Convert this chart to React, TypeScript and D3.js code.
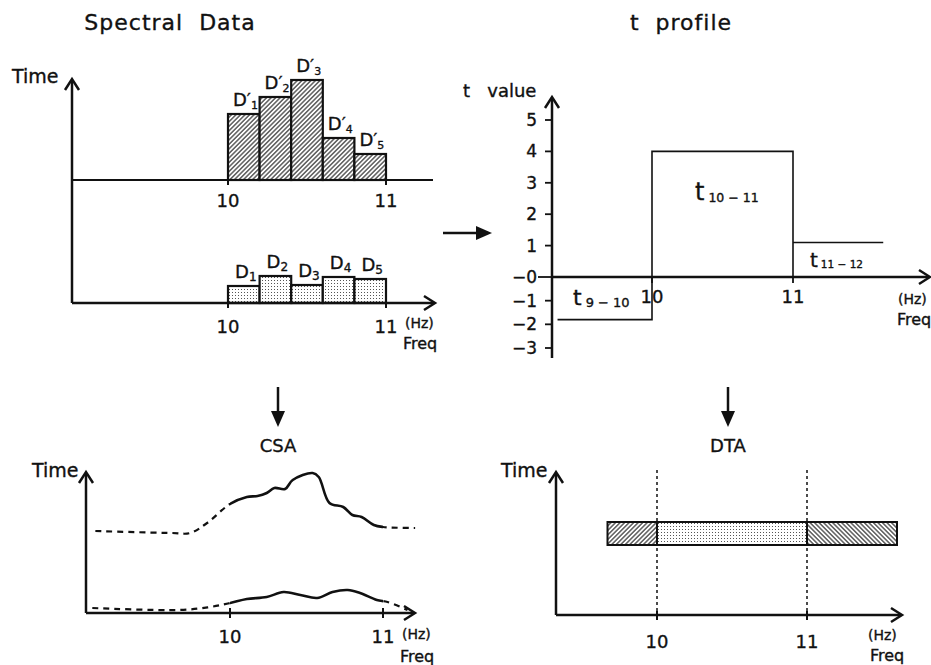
import React from "react";
import * as d3 from "d3";

const FONT = "'DejaVu Sans', sans-serif";

// spectral data, five bins between 10 and 11 Hz
const binEdges = [10, 10.2, 10.4, 10.6, 10.8, 11];
const dPrimeValues = [6.6, 8.3, 10.0, 4.2, 2.6];
const dValues = [1.7, 2.7, 1.8, 2.6, 2.4];
const binNames = ["1", "2", "3", "4", "5"];
const freqTicks = [10, 11];

// t profile
const tRanges = ["9 − 10", "10 − 11", "11 − 12"];
const tFrom = [9.33, 10, 11];
const tTo = [10, 11, 11.64];
const tValues = [-1.8, 4, 1.1];
const tTicks = [5, 4, 3, 2, 1, 0, -1, -2, -3];

// CSA curves (freq in Hz, time in arbitrary units)
const csaUpperFreq = [9.12, 9.62, 9.74, 9.85, 10, 10.11, 10.18, 10.24, 10.29, 10.36, 10.41, 10.54, 10.58, 10.65, 10.74, 10.8, 10.86, 10.94, 11, 11.21];
const csaUpperTime = [8.2, 8.0, 8.0, 9.0, 10.9, 11.6, 11.7, 12.0, 12.5, 12.4, 13.3, 14.0, 13.6, 11.0, 10.6, 9.8, 9.6, 8.8, 8.6, 8.5];
const csaLowerFreq = [9.1, 9.67, 9.87, 10, 10.11, 10.24, 10.35, 10.46, 10.57, 10.67, 10.77, 10.85, 10.96, 11.03, 11.16];
const csaLowerTime = [0.5, 0.3, 0.6, 1.0, 1.4, 1.6, 2.1, 1.8, 1.5, 2.1, 2.3, 2.0, 1.3, 1.1, 0.3];

// DTA band
const dtaFrom = [9.67, 10, 11];
const dtaTo = [10, 11, 11.6];
const dtaFill = ["hatchA", "dots", "hatchB"];
const dtaBand = [7.0, 9.3];

const ink = "#111";
const textStroke = { stroke: ink, strokeWidth: 0.35 };

function ChevronUp({ x, y }: { x: number; y: number }) {
  return <path d={`M${x - 7},${y + 11}L${x},${y}L${x + 7},${y + 11}`} fill="none" stroke={ink} strokeWidth={2.5} />;
}
function ChevronRight({ x, y }: { x: number; y: number }) {
  return <path d={`M${x - 11},${y - 7}L${x},${y}L${x - 11},${y + 7}`} fill="none" stroke={ink} strokeWidth={2.5} />;
}
function DownArrow({ x, y0, y1 }: { x: number; y0: number; y1: number }) {
  return (
    <g>
      <line x1={x} y1={y0} x2={x} y2={y1 - 14} stroke={ink} strokeWidth={2.5} />
      <path d={`M${x - 7},${y1 - 16}L${x},${y1}L${x + 7},${y1 - 16}Z`} fill={ink} />
    </g>
  );
}

function Label({ x, y, size, children, anchor = "start", spacing = 0 }: any) {
  return (
    <text x={x} y={y} fontSize={size} textAnchor={anchor} fontFamily={FONT} letterSpacing={spacing}
      style={{ whiteSpace: "pre" }} fill={ink} {...textStroke}>{children}</text>
  );
}

function SpectralPanel() {
  const x = d3.scaleLinear().domain([10, 11]).range([228, 386]);
  const yUp = d3.scaleLinear().domain([0, 10]).range([180, 80]);
  const yLo = d3.scaleLinear().domain([0, 10]).range([303, 203]);
  const upper = dPrimeValues.map((v, i) => ({ x0: binEdges[i], x1: binEdges[i + 1], v, n: binNames[i] }));
  const lower = dValues.map((v, i) => ({ x0: binEdges[i], x1: binEdges[i + 1], v, n: binNames[i] }));
  return (
    <g>
      <Label x={170} y={30} size={22} anchor="middle" spacing={1}>{"Spectral  Data"}</Label>
      <Label x={12} y={83} size={19}>Time</Label>
      {upper.map((d, i) => (
        <rect key={"u" + i} x={x(d.x0)} y={yUp(d.v)} width={x(d.x1) - x(d.x0)} height={yUp(0) - yUp(d.v)}
          fill="url(#hatchA)" stroke={ink} strokeWidth={2.2} />
      ))}
      {upper.map((d, i) => (
        <text key={"ul" + i} x={x(d.x0) + 5} y={yUp(d.v) - 8} fontSize={18} fontFamily={FONT} fill={ink} {...textStroke}>
          D′<tspan fontSize={11} dy={3}>{d.n}</tspan>
        </text>
      ))}
      {lower.map((d, i) => (
        <rect key={"l" + i} x={x(d.x0)} y={yLo(d.v)} width={x(d.x1) - x(d.x0)} height={yLo(0) - yLo(d.v)}
          fill="url(#dots)" stroke={ink} strokeWidth={2.2} />
      ))}
      {lower.map((d, i) => (
        <text key={"ll" + i} x={x(d.x0) + 7} y={yLo(d.v) - 8} fontSize={18} fontFamily={FONT} fill={ink} {...textStroke}>
          D<tspan fontSize={12} dy={3}>{d.n}</tspan>
        </text>
      ))}
      {/* axes */}
      <line x1={72} y1={80} x2={72} y2={yLo(0)} stroke={ink} strokeWidth={2.5} />
      <ChevronUp x={72} y={79} />
      <line x1={72} y1={yUp(0)} x2={433} y2={yUp(0)} stroke={ink} strokeWidth={2.2} />
      <line x1={72} y1={yLo(0)} x2={434} y2={yLo(0)} stroke={ink} strokeWidth={2.5} />
      <ChevronRight x={435} y={yLo(0)} />
      {freqTicks.map((t) => (
        <g key={t}>
          <line x1={x(t)} y1={yUp(0)} x2={x(t)} y2={yUp(0) + 5} stroke={ink} strokeWidth={2} />
          <line x1={x(t)} y1={yLo(0)} x2={x(t)} y2={yLo(0) + 5} stroke={ink} strokeWidth={2} />
          <Label x={x(t)} y={207} size={18} anchor="middle">{String(t)}</Label>
          <Label x={x(t)} y={333} size={18} anchor="middle">{String(t)}</Label>
        </g>
      ))}
      <Label x={405} y={328} size={14}>(Hz)</Label>
      <Label x={403} y={349} size={16}>Freq</Label>
    </g>
  );
}

function TProfilePanel() {
  const x = d3.scaleLinear().domain([10, 11]).range([652, 793]);
  const y = d3.scaleLinear().domain([-3, 0, 5]).range([348, 277, 120]);
  const axisX = 552;
  const line = d3.line<[number, number]>().x((d) => x(d[0])).y((d) => y(d[1]));
  const step: [number, number][] = [];
  for (let i = 0; i < 2; i++) {
    step.push([tFrom[i], tValues[i]]);
    step.push([tTo[i], tValues[i]]);
  }
  step.push([tTo[1], 0]);
  const tail: [number, number][] = [[tFrom[2], tValues[2]], [tTo[2], tValues[2]]];
  return (
    <g>
      <Label x={681} y={30} size={22} anchor="middle" spacing={1}>{"t  profile"}</Label>
      <Label x={463} y={97} size={18}>{"t   value"}</Label>
      <line x1={axisX} y1={98} x2={axisX} y2={358} stroke={ink} strokeWidth={2.5} />
      <ChevronUp x={axisX} y={97} />
      {tTicks.map((t) => (
        <g key={t}>
          <line x1={t === 0 ? 538 : 545} y1={y(t)} x2={axisX} y2={y(t)} stroke={ink} strokeWidth={1.8} />
          <Label x={537} y={y(t) + 6} size={17} anchor="end">{t < 0 ? "−" + Math.abs(t) : t === 0 ? "−0" : String(t)}</Label>
        </g>
      ))}
      <line x1={axisX} y1={y(0)} x2={928} y2={y(0)} stroke={ink} strokeWidth={2.5} />
      <ChevronRight x={930} y={y(0)} />
      <path d={line(step) || ""} fill="none" stroke={ink} strokeWidth={1.6} />
      <path d={line(tail) || ""} fill="none" stroke={ink} strokeWidth={1.6} />
      {freqTicks.map((t) => (
        <g key={t}>
          <line x1={x(t)} y1={y(0)} x2={x(t)} y2={y(0) + 6} stroke={ink} strokeWidth={1.8} />
          <Label x={x(t)} y={303} size={18} anchor="middle">{String(t)}</Label>
        </g>
      ))}
      <Label x={898} y={304} size={14}>(Hz)</Label>
      <Label x={897} y={325} size={16}>Freq</Label>
      {/* t labels */}
      <text x={573} y={305} fontFamily={FONT} fill={ink} fontSize={22} {...textStroke}>t<tspan fontSize={13} dx={4} dy={2} style={{ whiteSpace: "pre" }}>{tRanges[0]}</tspan></text>
      <text x={695} y={200} fontFamily={FONT} fill={ink} fontSize={24} {...textStroke}>t<tspan fontSize={12.5} dx={4} dy={2} style={{ whiteSpace: "pre" }}>{tRanges[1]}</tspan></text>
      <text x={810} y={267} fontFamily={FONT} fill={ink} fontSize={20} {...textStroke}>t<tspan fontSize={10.5} dx={3} dy={1} style={{ whiteSpace: "pre" }}>{tRanges[2]}</tspan></text>
    </g>
  );
}

function CsaPanel() {
  const x = d3.scaleLinear().domain([10, 11]).range([230, 383]);
  const y = d3.scaleLinear().domain([0, 14]).range([613, 473]);
  const mk = (fs: number[], ts: number[]) =>
    d3.line<number>().x((f) => x(f)).y((_, i) => y(ts[i])).curve(d3.curveCatmullRom.alpha(0.5))(fs) || "";
  const up = mk(csaUpperFreq, csaUpperTime);
  const lo = mk(csaLowerFreq, csaLowerTime);
  return (
    <g>
      <defs>
        <clipPath id="csaMid"><rect x={x(10)} y={400} width={x(11) - x(10)} height={260} /></clipPath>
        <clipPath id="csaOut">
          <rect x={0} y={400} width={x(10)} height={260} />
          <rect x={x(11)} y={400} width={200} height={260} />
        </clipPath>
      </defs>
      <DownArrow x={278} y0={387} y1={427} />
      <Label x={278} y={452} size={18} anchor="middle">CSA</Label>
      <Label x={32} y={477} size={19}>Time</Label>
      <line x1={86} y1={473} x2={86} y2={y(0)} stroke={ink} strokeWidth={2.5} />
      <ChevronUp x={86} y={472} />
      <line x1={86} y1={y(0)} x2={413} y2={y(0)} stroke={ink} strokeWidth={2.5} />
      <ChevronRight x={415} y={y(0)} />
      {[up, lo].map((d, i) => (
        <g key={i}>
          <path d={d} fill="none" stroke={ink} strokeWidth={2.6} clipPath="url(#csaMid)" />
          <path d={d} fill="none" stroke={ink} strokeWidth={2.2} strokeDasharray="6,5" clipPath="url(#csaOut)" />
        </g>
      ))}
      {freqTicks.map((t) => (
        <g key={t}>
          <line x1={x(t)} y1={y(0) - 5} x2={x(t)} y2={y(0) + 5} stroke={ink} strokeWidth={2} />
          <Label x={x(t)} y={643} size={18} anchor="middle">{String(t)}</Label>
        </g>
      ))}
      <Label x={402} y={639} size={14}>(Hz)</Label>
      <Label x={400} y={662} size={16}>Freq</Label>
    </g>
  );
}

function DtaPanel() {
  const x = d3.scaleLinear().domain([10, 11]).range([657, 807]);
  const y = d3.scaleLinear().domain([0, 14]).range([615, 475]);
  return (
    <g>
      <DownArrow x={728} y0={387} y1={427} />
      <Label x={728} y={452} size={18} anchor="middle">DTA</Label>
      <Label x={501} y={477} size={19}>Time</Label>
      {freqTicks.map((t) => (
        <line key={"g" + t} x1={x(t)} y1={470} x2={x(t)} y2={y(0)} stroke={ink} strokeWidth={1.5} strokeDasharray="3,3" />
      ))}
      {dtaFrom.map((f, i) => (
        <rect key={i} x={x(f)} y={y(dtaBand[1])} width={x(dtaTo[i]) - x(f)} height={y(dtaBand[0]) - y(dtaBand[1])}
          fill={`url(#${dtaFill[i]})`} stroke={ink} strokeWidth={2} />
      ))}
      <line x1={556} y1={473} x2={556} y2={y(0)} stroke={ink} strokeWidth={2.5} />
      <ChevronUp x={556} y={472} />
      <line x1={556} y1={y(0)} x2={900} y2={y(0)} stroke={ink} strokeWidth={2.5} />
      <ChevronRight x={902} y={y(0)} />
      {freqTicks.map((t) => (
        <g key={t}>
          <line x1={x(t)} y1={y(0) - 4} x2={x(t)} y2={y(0) + 5} stroke={ink} strokeWidth={2} />
          <Label x={x(t)} y={648} size={18} anchor="middle">{String(t)}</Label>
        </g>
      ))}
      <Label x={868} y={640} size={14}>(Hz)</Label>
      <Label x={870} y={661} size={16}>Freq</Label>
    </g>
  );
}

export default function App() {
  return (
    <svg width={931} height={665} style={{ position: "absolute", left: 0, top: 0, background: "#fff" }}>
      <defs>
        <pattern id="hatchA" patternUnits="userSpaceOnUse" width={3.2} height={3.2} patternTransform="rotate(45)">
          <rect width={3.2} height={3.2} fill="#fff" />
          <line x1={1.6} y1={0} x2={1.6} y2={3.2} stroke="#222" strokeWidth={1.1} />
        </pattern>
        <pattern id="hatchB" patternUnits="userSpaceOnUse" width={3.2} height={3.2} patternTransform="rotate(-45)">
          <rect width={3.2} height={3.2} fill="#fff" />
          <line x1={1.6} y1={0} x2={1.6} y2={3.2} stroke="#222" strokeWidth={1.1} />
        </pattern>
        <pattern id="dots" patternUnits="userSpaceOnUse" width={3} height={3}>
          <rect width={3} height={3} fill="#fff" />
          <rect x={1} y={1} width={1} height={1} fill="#555" />
        </pattern>
      </defs>
      <rect width={931} height={665} fill="#fff" />
      <SpectralPanel />
      <TProfilePanel />
      {/* arrow between top panels */}
      <line x1={443} y1={233} x2={478} y2={233} stroke={ink} strokeWidth={2.5} />
      <path d="M476,226L492,233L476,240Z" fill={ink} />
      <CsaPanel />
      <DtaPanel />
    </svg>
  );
}
